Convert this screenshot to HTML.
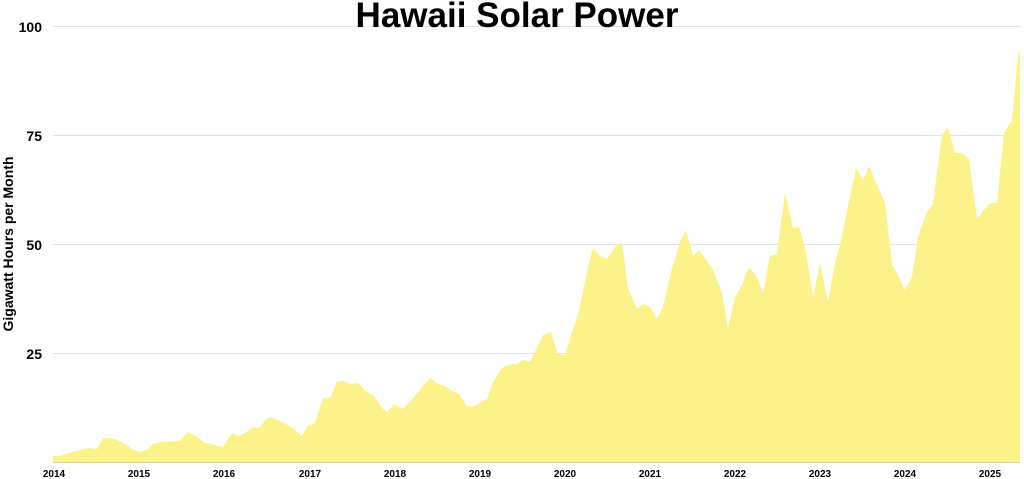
<!DOCTYPE html>
<html><head><style>
body{margin:0;background:#fff;}
svg{display:block;font-family:"Liberation Sans",Arial,sans-serif;}
</style></head><body>
<svg width="1024" height="479" viewBox="0 0 1024 479">
<g stroke="#e2e2e2" stroke-width="1">
<line x1="53" y1="26.5" x2="1020" y2="26.5"/>
<line x1="53" y1="135.5" x2="1020" y2="135.5"/>
<line x1="53" y1="244.5" x2="1020" y2="244.5"/>
<line x1="53" y1="353.5" x2="1020" y2="353.5"/>
</g>
<path fill="#fcf28a" d="M53,462 L53,456 L60,456 L68,453 L80,450 L88,448 L97,449 L103,438 L110,438 L117,440 L127,445 L133,450 L139,452 L147,450 L153,444 L160,442 L180,441 L188,432 L197,437 L203,442 L223,447 L232,433 L238,436 L245,433 L253,427 L259,428 L267,418 L273,418 L282,422 L293,428 L302,436 L308,426 L315,423 L323,398 L330,398 L337,382 L343,381 L350,384 L358,383 L367,392 L374,396 L382,408 L387,412 L394,404 L402,409 L410,402 L423,386 L430,378 L438,384 L445,386 L452,391 L459,394 L466,405 L472,407 L487,399 L493,382 L502,368 L510,364 L517,364 L523,360 L530,362 L543,335 L551,332 L558,354 L565,355 L572,332 L578,315 L588,267 L593,248 L600,256 L607,259 L615,247 L622,243 L628,288 L637,309 L643,304 L650,307 L657,319 L663,307 L672,268 L680,242 L686,230 L693,256 L699,250 L713,270 L722,293 L728,328 L735,297 L742,285 L749,267 L757,277 L763,293 L770,256 L777,254 L785,193 L793,228 L799,227 L805,247 L813,297 L820,263 L828,302 L835,263 L840,245 L848,206 L856,168 L863,180 L869,166 L877,185 L885,203 L892,264 L898,275 L905,290 L912,277 L918,237 L927,212 L933,204 L942,135 L948,127 L955,153 L962,153 L969,159 L977,219 L983,211 L990,203 L997,203 L1004,133 L1012,120 L1018,57 L1020,50 L1020,462 Z"/>
<line x1="53" y1="462.5" x2="1020" y2="462.5" stroke="#cfcfb0" stroke-width="1"/>
<text x="517" y="27" text-anchor="middle" font-size="35" font-weight="bold" fill="#000">Hawaii Solar Power</text>
<g font-size="14" font-weight="bold" fill="#000" text-anchor="end">
<text x="42" y="32">100</text>
<text x="42" y="141">75</text>
<text x="42" y="250">50</text>
<text x="42" y="359">25</text>
</g>
<text transform="translate(13,244) rotate(-90)" text-anchor="middle" font-size="14" font-weight="bold">Gigawatt Hours per Month</text>
<g font-size="10" font-weight="bold" fill="#000" text-anchor="middle">
<text x="54" y="477">2014</text><text x="139" y="477">2015</text><text x="224" y="477">2016</text>
<text x="310" y="477">2017</text><text x="395" y="477">2018</text><text x="480" y="477">2019</text>
<text x="565" y="477">2020</text><text x="650" y="477">2021</text><text x="735" y="477">2022</text>
<text x="820" y="477">2023</text><text x="905" y="477">2024</text><text x="990" y="477">2025</text>
</g>
</svg>
</body></html>
